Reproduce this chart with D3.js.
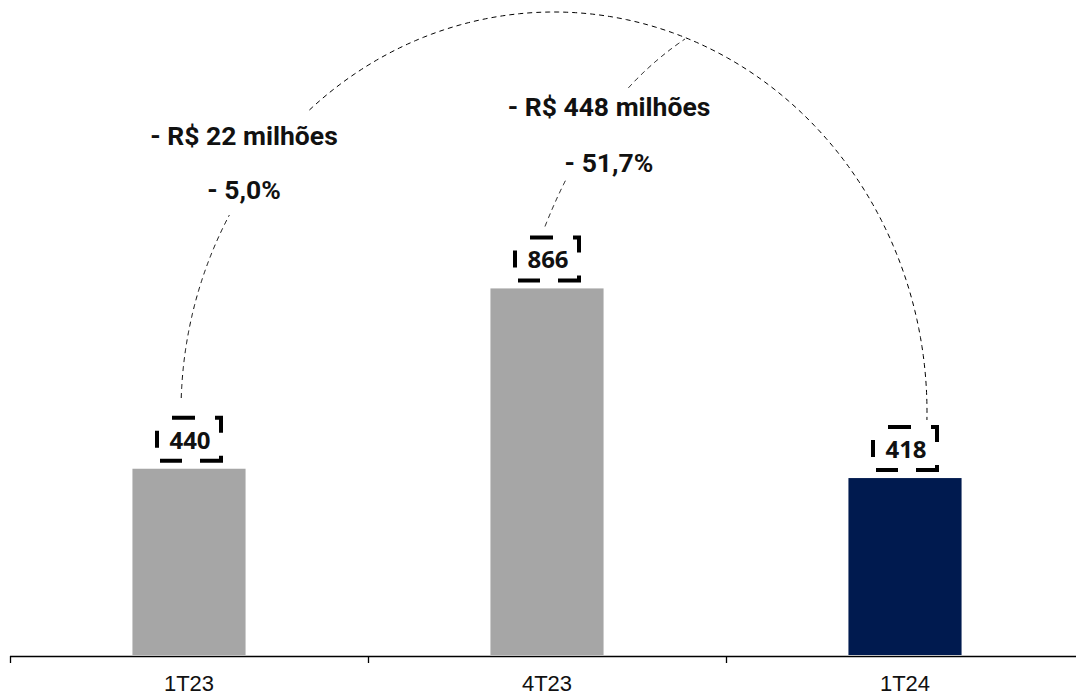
<!DOCTYPE html>
<html><head><meta charset="utf-8">
<script src="https://cdn.jsdelivr.net/npm/d3@7"></script>
<style>html,body{margin:0;padding:0;background:#fff;}svg{display:block;}</style>
</head><body>
<svg id="chart" width="1076" height="697"></svg>
<script>
const categories = ["1T23", "4T23", "1T24"];
const values = [440, 866, 418];
const barColors = ["#a6a6a6", "#a6a6a6", "#001a4f"];
const valueLabels = ["440", "866", "418"];
const annotationAmount = ["- R$ 22 milhões", "- R$ 448 milhões"];
const annotationPct = ["- 5,0%", "- 51,7%"];

const svg = d3.select("#chart");
const baseY = 655;
const x = d3.scaleBand().domain(categories).range([10, 1084]).paddingInner(0.684).paddingOuter(0.342);
const y = d3.scaleLinear().domain([0, 1000]).range([baseY, baseY - 423.3]);
const step = x.step();
const cx = c => x(c) + x.bandwidth() / 2;

// bars
svg.selectAll("rect.bar").data(categories).join("rect")
  .attr("class", "bar")
  .attr("x", d => x(d)).attr("width", x.bandwidth())
  .attr("y", (d, i) => y(values[i])).attr("height", (d, i) => baseY - y(values[i]))
  .attr("fill", (d, i) => barColors[i]);

// axis
const ax = svg.append("g");
ax.append("line").attr("x1", 10).attr("x2", 1076).attr("y1", 656.5).attr("y2", 656.5).attr("stroke", "#000").attr("stroke-width", 1.3);
categories.forEach((c, i) => {
  const tx = x(c) - x.paddingOuter() * step;
  ax.append("line").attr("x1", tx + 0.5).attr("x2", tx + 0.5).attr("y1", 656).attr("y2", 663).attr("stroke", "#000").attr("stroke-width", 1.3);
  ax.append("text").attr("x", cx(c)).attr("y", 691).attr("text-anchor", "middle")
    .attr("font-family", "'Liberation Sans Narrow', 'Liberation Sans', Arial, sans-serif").attr("font-size", 22).attr("fill", "#111").text(c);
});

// value labels with dashed boxes
const boxW = 64, boxH = 43;
categories.forEach((c, i) => {
  const top = y(values[i]);
  svg.append("rect").attr("x", cx(c) - 32).attr("y", top - 8 - boxH).attr("width", boxW).attr("height", boxH)
    .attr("fill", "none").attr("stroke", "#000").attr("stroke-width", 4)
    .attr("stroke-dasharray", "0 15 23 20 21 23 26 18 22 16 17 11");
  svg.append("text").attr("x", cx(c) + 1).attr("y", top - 20).attr("text-anchor", "middle")
    .attr("font-family", "'Noto Sans', 'Open Sans', sans-serif").attr("font-weight", 700).attr("font-size", 24)
    .attr("fill", "#111").text(valueLabels[i]);
});

// big arc 1T23 -> 1T24
const a0 = cx(categories[0]) - 8, a1 = cx(categories[2]) + 22;
const ecx = (a0 + a1) / 2, erx = (a1 - a0) / 2, ecy = 412, ery = 400;
const ellipsePts = (t0, t1) => d3.range(0, 201).map(k => {
  const t = t0 + (t1 - t0) * k / 200;
  return [ecx + erx * Math.cos(t), ecy - ery * Math.sin(t)];
});
const line = d3.line();
const dashStyle = s => s.attr("fill", "none").attr("stroke", "#000").attr("stroke-width", 1).attr("stroke-dasharray", "5 4");
svg.append("path").attr("d", line(ellipsePts(Math.PI - 0.035, 2.627))).call(dashStyle);
svg.append("path").attr("d", line(ellipsePts(2.286, -0.02))).call(dashStyle);

// small arc 4T23 -> big arc
const p0 = [cx(categories[1]) - 2, y(values[1]) - 62];
const p2 = [685, 39];
const pc = [p0[0] + 50, 99.5];
const quad = (t0, t1) => d3.range(0, 101).map(k => {
  const t = t0 + (t1 - t0) * k / 100, u = 1 - t;
  return [u*u*p0[0] + 2*u*t*pc[0] + t*t*p2[0], u*u*p0[1] + 2*u*t*pc[1] + t*t*p2[1]];
});
svg.append("path").attr("d", line(quad(0, 0.2))).call(dashStyle);
svg.append("path").attr("d", line(quad(0.66, 1))).call(dashStyle);

// annotation texts
const annX = [244, 609];
const amtY = [145, 116];
const pctY = [199, 172];
annX.forEach((ax0, i) => {
  svg.append("text").attr("x", ax0).attr("y", amtY[i]).attr("text-anchor", "middle")
    .attr("font-family", "Roboto, sans-serif").attr("font-weight", 700).attr("font-size", 26.5).attr("fill", "#111").text(annotationAmount[i]);
  svg.append("text").attr("x", ax0).attr("y", pctY[i]).attr("text-anchor", "middle")
    .attr("font-family", "Roboto, sans-serif").attr("font-weight", 700).attr("font-size", 26.5).attr("fill", "#111").text(annotationPct[i]);
});
</script>
</body></html>
